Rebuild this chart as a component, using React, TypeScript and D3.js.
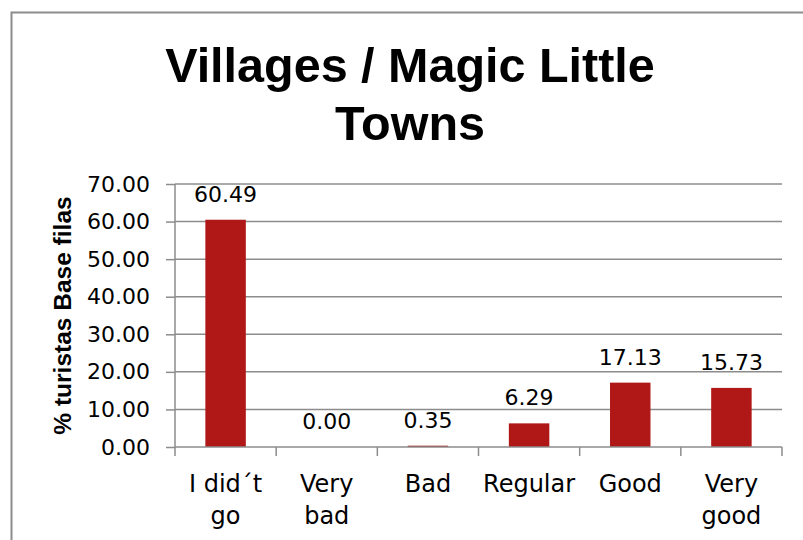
import { useEffect, useRef } from "react";
import * as d3 from "d3";

const categories = ["I did´t go", "Very bad", "Bad", "Regular", "Good", "Very good"];
const categoryLines = [["I did´t", "go"], ["Very", "bad"], ["Bad"], ["Regular"], ["Good"], ["Very", "good"]];
const values = [60.49, 0.0, 0.35, 6.29, 17.13, 15.73];
const yTicks = [0, 10, 20, 30, 40, 50, 60, 70];
const titleLines = ["Villages / Magic Little", "Towns"];
const yTitle = "% turistas Base filas";

function App() {
  const ref = useRef<SVGSVGElement | null>(null);
  const width = 803;
  const height = 540;
  const margin = { top: 184, right: 21, bottom: 93, left: 175 };
  const innerWidth = width - margin.left - margin.right;
  const innerHeight = height - margin.top - margin.bottom;

  useEffect(() => {
    const svg = d3.select(ref.current);
    svg.selectAll("*").remove();

    const gray = "#8c8c8c";
    const font = "'DejaVu Sans', sans-serif";

    // outer chart frame
    svg.append("rect")
      .attr("x", 11.5).attr("y", 12.5)
      .attr("width", 820).attr("height", 560)
      .attr("fill", "none").attr("stroke", gray).attr("stroke-width", 2);

    // title
    svg.append("g")
      .selectAll("text")
      .data(titleLines)
      .join("text")
      .attr("x", 410)
      .attr("y", (d, i) => 82 + i * 58)
      .attr("text-anchor", "middle")
      .style("font-family", "'Liberation Sans', Arial, sans-serif")
      .style("font-weight", 700)
      .style("font-size", "48.5px")
      .attr("fill", "#000")
      .text(d => d);

    const inner = svg.append("g").attr("transform", `translate(${margin.left},${margin.top})`);

    const x = d3.scaleBand().domain(categories).range([0, innerWidth]).paddingInner(0.6).paddingOuter(0.3);
    const y = d3.scaleLinear().domain([0, 70]).range([innerHeight, 0]);

    // gridlines
    inner.append("g")
      .selectAll("line")
      .data(yTicks.slice(1))
      .join("line")
      .attr("x1", 0).attr("x2", innerWidth)
      .attr("y1", d => y(d)).attr("y2", d => y(d))
      .attr("stroke", gray).attr("stroke-width", 1.5);

    // y axis
    const yAxis = inner.append("g")
      .call(d3.axisLeft(y).tickValues(yTicks).tickSize(9).tickPadding(16).tickFormat(d3.format(".2f")));
    yAxis.select(".domain").attr("stroke", gray).attr("stroke-width", 1.5).attr("d", `M0,0V${innerHeight}`);
    yAxis.selectAll(".tick line").attr("stroke", gray).attr("stroke-width", 1.5);
    yAxis.selectAll(".tick text")
      .attr("fill", "#000")
      .style("font-family", font)
      .style("font-size", "22px");

    // bars
    inner.append("g")
      .selectAll("rect")
      .data(values)
      .join("rect")
      .attr("x", (d, i) => x(categories[i])!)
      .attr("width", x.bandwidth())
      .attr("y", d => y(d))
      .attr("height", d => innerHeight - y(d))
      .attr("fill", "#b01717");

    // x axis baseline and separators
    const step = innerWidth / categories.length;
    inner.append("line")
      .attr("x1", 0).attr("x2", innerWidth)
      .attr("y1", innerHeight).attr("y2", innerHeight)
      .attr("stroke", gray).attr("stroke-width", 1.5);
    inner.append("g")
      .selectAll("line")
      .data(d3.range(categories.length + 1))
      .join("line")
      .attr("x1", i => i * step).attr("x2", i => i * step)
      .attr("y1", innerHeight).attr("y2", innerHeight + 9)
      .attr("stroke", gray).attr("stroke-width", 1.5);

    // data labels
    inner.append("g")
      .selectAll("text")
      .data(values)
      .join("text")
      .attr("x", (d, i) => x(categories[i])! + x.bandwidth() / 2)
      .attr("y", d => y(d) - 18)
      .attr("text-anchor", "middle")
      .style("font-family", font)
      .style("font-size", "22px")
      .attr("fill", "#000")
      .text(d => d3.format(".2f")(d));

    // category labels
    const cats = inner.append("g")
      .selectAll("text")
      .data(categoryLines)
      .join("text")
      .attr("x", (d, i) => x(categories[i])! + x.bandwidth() / 2)
      .attr("y", innerHeight + 45)
      .attr("text-anchor", "middle")
      .style("font-family", font)
      .style("font-size", "24px")
      .attr("fill", "#000");
    cats.selectAll("tspan")
      .data((d, i) => d.map(line => ({ line, i })))
      .join("tspan")
      .attr("x", d => x(categories[d.i])! + x.bandwidth() / 2)
      .attr("dy", (d, j) => (j === 0 ? 0 : 31.5))
      .text(d => d.line);

    // y axis title
    svg.append("text")
      .attr("transform", `translate(71,${margin.top + innerHeight / 2}) rotate(-90)`)
      .attr("text-anchor", "middle")
      .style("font-family", "'Liberation Sans', Arial, sans-serif")
      .style("font-weight", 700)
      .style("font-size", "24.5px")
      .attr("fill", "#000")
      .text(yTitle);
  }, []);

  return (
    <svg
      ref={ref}
      width={width}
      height={height}
      style={{ position: "absolute", left: 0, top: 0, background: "#fff" }}
    />
  );
}

export default App;
